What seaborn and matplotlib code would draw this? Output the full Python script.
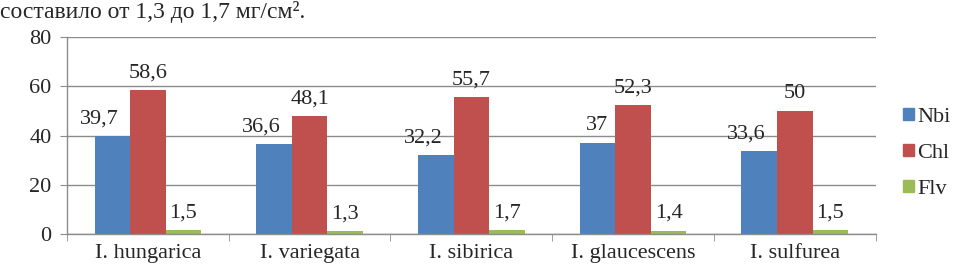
import pandas as pd
import numpy as np
import matplotlib.pyplot as plt
import seaborn as sns

# --- datos ---
species = ["I. hungarica", "I. variegata", "I. sibirica", "I. glaucescens", "I. sulfurea"]
series = ["Nbi", "Chl", "Flv"]
nbi = [39.7, 36.6, 32.2, 37, 33.6]
chl = [58.6, 48.1, 55.7, 52.3, 50]
flv = [1.5, 1.3, 1.7, 1.4, 1.5]
colors = ["#4F81BD", "#C0504D", "#9BBB59"]

df = pd.DataFrame({
    "species": species * 3,
    "series": [s for s in series for _ in species],
    "value": nbi + chl + flv,
})

sns.set_style("white")
plt.rcParams['font.family'] = ['Liberation Serif', 'DejaVu Serif']

fig = plt.figure(figsize=(9.74, 2.73), dpi=100)
ax = fig.add_axes([0.0688, 0.143, 0.8302, 0.721])

sns.barplot(data=df, x="species", y="value", hue="series", palette=colors,
            width=0.66, saturation=1, linewidth=0, ax=ax, legend=False)

grid_c = "#8c8c8c"
ax.set_ylim(0, 80)
ax.set_xlim(-0.5, len(species) - 0.5)
ax.set_yticks(range(0, 81, 20))
ax.yaxis.grid(True, color=grid_c, linewidth=1)
ax.set_axisbelow(True)
for side in ["top", "right"]:
    ax.spines[side].set_visible(False)
for side in ["left", "bottom"]:
    ax.spines[side].set_color(grid_c)
    ax.spines[side].set_linewidth(1)

ax.tick_params(axis="y", length=5, color=grid_c, labelsize=16, pad=6, left=True)
ax.set_xticks(range(len(species)))
ax.set_xticklabels(species)
ax.tick_params(axis="x", which="major", length=0, labelsize=16, pad=7)
ax.set_xticks(np.arange(-0.5, len(species), 1), minor=True)
ax.tick_params(axis="x", which="minor", length=5, color=grid_c, bottom=True)
ax.set_xlabel("")
ax.set_ylabel("")

# etiquetas de valores (las de Nbi algo desplazadas a la izquierda, como en Excel)
for i, cont in enumerate(ax.containers):
    for bar in cont:
        h = bar.get_height()
        lab = f"{h:g}".replace(".", ",")
        dx = -9 if (i == 0 and len(lab) > 2) else 0
        ax.annotate(lab, (bar.get_x() + bar.get_width() / 2, h),
                    xytext=(dx, 9), textcoords="offset points",
                    ha="center", va="baseline", fontsize=16)

# leyenda
handles = [plt.Rectangle((0, 0), 1, 1, color=c) for c in colors]
ax.legend(handles, series, loc="center left", bbox_to_anchor=(1.02, 0.41),
          frameon=False, fontsize=16, handlelength=0.5, handleheight=0.5,
          handletextpad=0.15, labelspacing=0.75, borderpad=0)

fig.text(0.0, 0.998, "составило от 1,3 до 1,7 мг/см².", ha="left", va="top",
         fontsize=17)

fig.savefig("out.png", dpi=100)
